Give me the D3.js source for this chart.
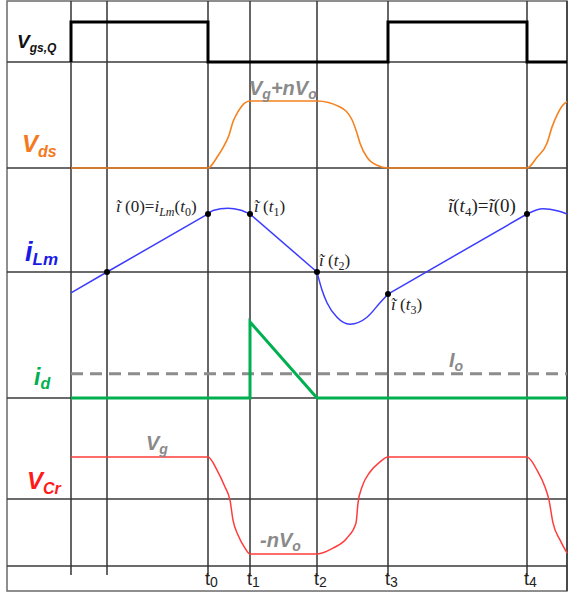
<!DOCTYPE html>
<html>
<head>
<meta charset="utf-8">
<script src="https://cdn.jsdelivr.net/npm/d3@7/dist/d3.min.js"></script>
<style>
  body { margin: 0; background: #fff; }
  svg { display: block; }
</style>
</head>
<body>
<div id="chart"></div>
<script>
// ── Data (time in arbitrary units, levels normalised per trace) ─────────────
const GRID_T = [0, 0.36, 1.37, 1.79, 2.46, 3.17, 4.56, 4.96];

const TICKS = [
    { sub: "0", t: 1.37 },
    { sub: "1", t: 1.79 },
    { sub: "2", t: 2.46 },
    { sub: "3", t: 3.17 },
    { sub: "4", t: 4.56 },
];

// gate signal (0 = low, 1 = high)
const VGS = [[0, 0], [0, 1], [1.37, 1], [1.37, 0], [3.17, 0], [3.17, 1], [4.56, 1], [4.56, 0], [4.96, 0]];

// drain-source voltage (0 = 0, 1 = Vg+nVo)
const VDS = [
    [0, 0], [1.37, 0], [1.46, 0.16], [1.53, 0.33], [1.58, 0.49], [1.62, 0.69], [1.67, 0.84], [1.73, 0.96], [1.79, 1],
    [2.46, 1], [2.69, 0.91], [2.81, 0.72], [2.86, 0.52], [2.89, 0.37], [2.96, 0.16], [3.06, 0.04], [3.17, 0],
    [4.56, 0], [4.66, 0.16], [4.76, 0.37], [4.81, 0.61], [4.86, 0.79], [4.92, 0.94], [4.96, 0.99],
];

// magnetising current, split into its linear and resonant pieces
const ILM = [
    [[0, -0.36], [0.36, 0], [1.37, 1]],
    [[1.37, 1], [1.42, 1.06], [1.57, 1.1], [1.69, 1.07], [1.79, 1]],
    [[1.79, 1], [2.46, 0]],
    [[2.46, 0], [2.51, -0.31], [2.56, -0.53], [2.66, -0.78], [2.79, -0.9], [2.96, -0.78], [3.09, -0.53], [3.17, -0.38]],
    [[3.17, -0.38], [4.56, 1]],
    [[4.56, 1], [4.72, 1.09], [4.87, 1.05], [4.96, 1]],
];
const ILM_DOTS = [[0.36, 0], [1.37, 1], [1.79, 1], [2.46, 0], [3.17, -0.38], [4.56, 1]];

// diode current (1 = peak) and load current level
const ID = [[0, 0], [1.79, 0], [1.79, 1], [2.46, 0], [4.96, 0]];
const IO_LEVEL = 0.32;

// resonant capacitor voltage (1 = Vg, -1 = -nVo)
const VCR = [
    [0, 1], [1.37, 1], [1.46, 0.73], [1.54, 0.38], [1.59, 0.11], [1.62, -0.3], [1.67, -0.61], [1.74, -0.88], [1.79, -1],
    [2.46, -1], [2.62, -0.88], [2.76, -0.67], [2.85, -0.36], [2.87, 0.05], [2.91, 0.38], [2.99, 0.69], [3.09, 0.9], [3.17, 1],
    [4.56, 1], [4.66, 0.73], [4.74, 0.38], [4.78, 0.11], [4.82, -0.36], [4.89, -0.71], [4.96, -0.98],
];

// ── Layout ─────────────────────────────────────────────────────────────────
const W = 571, H = 595;
const frame = { left: 7, top: 1, right: 567, bottom: 591 };
const ROW_LINES = [62, 168, 272, 398, 499, 566];
const GRID_BOTTOM = 575;

const svg = d3.select("#chart").append("svg")
    .attr("width", W).attr("height", H);

// ── Scales ─────────────────────────────────────────────────────────────────
const x = d3.scaleLinear().domain([0, 4.96]).range([71, 567]);
const yVgs = d3.scaleLinear().domain([0, 1]).range([62, 22]);
const yVds = d3.scaleLinear().domain([0, 1]).range([168, 101]);
const yLm = d3.scaleLinear().domain([0, 1]).range([272, 214]);
const yId = d3.scaleLinear().domain([0, 1]).range([398, 322]);
const yCr = d3.scaleLinear().domain([-1, 1]).range([554, 457]);

// ── Grid & frame ───────────────────────────────────────────────────────────
const grid = svg.append("g");
grid.append("rect")
    .attr("x", frame.left).attr("y", frame.top)
    .attr("width", frame.right - frame.left).attr("height", frame.bottom - frame.top)
    .attr("fill", "none").attr("stroke", "#6a6a6a").attr("stroke-width", 1.5);

grid.selectAll(".hline").data(ROW_LINES).join("line")
    .attr("x1", frame.left).attr("x2", frame.right)
    .attr("y1", d => d).attr("y2", d => d)
    .attr("stroke", "#3a3a3a").attr("stroke-width", 1.6);

grid.selectAll(".vline").data(GRID_T).join("line")
    .attr("x1", d => x(d)).attr("x2", d => x(d))
    .attr("y1", frame.top)
    .attr("y2", (d, i) => i === GRID_T.length - 1 ? frame.bottom : GRID_BOTTOM)
    .attr("stroke", "#333").attr("stroke-width", 1.5);

// ── Waveforms ──────────────────────────────────────────────────────────────
const lineOf = (ys, curve) => d3.line().x(d => x(d[0])).y(d => ys(d[1])).curve(curve);

svg.append("path").datum(VGS)
    .attr("d", lineOf(yVgs, d3.curveLinear))
    .attr("fill", "none").attr("stroke", "#000").attr("stroke-width", 3);

svg.append("path").datum(VDS)
    .attr("d", lineOf(yVds, d3.curveMonotoneX))
    .attr("fill", "none").attr("stroke", "#f5821f").attr("stroke-width", 1.6);

svg.append("g").selectAll("path").data(ILM).join("path")
    .attr("d", lineOf(yLm, d3.curveMonotoneX))
    .attr("fill", "none").attr("stroke", "#3c3cff").attr("stroke-width", 1.5);

svg.append("line")
    .attr("x1", x(0)).attr("x2", x(4.96))
    .attr("y1", yId(IO_LEVEL)).attr("y2", yId(IO_LEVEL))
    .attr("stroke", "#8c8c8c").attr("stroke-width", 3)
    .attr("stroke-dasharray", "12,7");

svg.append("path").datum(ID)
    .attr("d", lineOf(yId, d3.curveLinear))
    .attr("fill", "none").attr("stroke", "#00b050").attr("stroke-width", 3)
    .attr("stroke-linejoin", "miter");

svg.append("path").datum(VCR)
    .attr("d", lineOf(yCr, d3.curveMonotoneX))
    .attr("fill", "none").attr("stroke", "#ff3c3c").attr("stroke-width", 1.5);

svg.append("g").selectAll("circle").data(ILM_DOTS).join("circle")
    .attr("cx", d => x(d[0])).attr("cy", d => yLm(d[1]))
    .attr("r", 3).attr("fill", "#000");

// ── Text helper: runs of normal / subscript parts ──────────────────────────
function richText(px, py, parts, o) {
    const t = svg.append("text")
        .attr("x", px).attr("y", py)
        .attr("font-family", o.family)
        .attr("fill", o.fill)
        .attr("font-weight", o.weight || "normal");
    let shift = 0;
    parts.forEach(p => {
        const want = p.sub ? (o.subDy || 4) : 0;
        t.append("tspan")
            .attr("dy", want - shift)
            .attr("font-size", p.sub ? o.subSize : o.size)
            .attr("font-style", p.it ? "italic" : "normal")
            .text(p.t);
        shift = want;
    });
    return t;
}

const SANS = "Liberation Sans, Arial, sans-serif";
const SERIF = "Liberation Serif, Times New Roman, serif";

// row names
richText(17, 48, [{ t: "V", it: 1 }, { t: "gs,Q", it: 1, sub: 1 }],
    { family: SANS, fill: "#111", weight: "bold", size: 19, subSize: 12, subDy: 4 });
richText(22, 152, [{ t: "V", it: 1 }, { t: "ds", it: 1, sub: 1 }],
    { family: SANS, fill: "#f47920", weight: "bold", size: 24, subSize: 16, subDy: 5 });
richText(25, 261, [{ t: "i", it: 1 }, { t: "Lm", it: 1, sub: 1 }],
    { family: SANS, fill: "#1a1ae6", weight: "bold", size: 27, subSize: 17, subDy: 4 });
richText(34, 385, [{ t: "i", it: 1 }, { t: "d", it: 1, sub: 1 }],
    { family: SANS, fill: "#00b050", weight: "bold", size: 23, subSize: 16, subDy: 4 });
richText(27, 489, [{ t: "V", it: 1 }, { t: "Cr", it: 1, sub: 1 }],
    { family: SANS, fill: "#ff1a1a", weight: "bold", size: 24, subSize: 16, subDy: 5 });

// level annotations
const GREY = { family: SANS, fill: "#8a8a8a", weight: "bold", size: 20, subSize: 14, subDy: 4 };
richText(249, 95, [{ t: "V", it: 1 }, { t: "g", it: 1, sub: 1 }, { t: "+nV", it: 1 }, { t: "o", it: 1, sub: 1 }], GREY);
richText(146, 450, [{ t: "V", it: 1 }, { t: "g", it: 1, sub: 1 }], GREY);
richText(260, 547, [{ t: "-nV", it: 1 }, { t: "o", it: 1, sub: 1 }], GREY);
richText(449, 367, [{ t: "I", it: 1 }, { t: "o", it: 1, sub: 1 }], GREY);

// current sample annotations
const SER = { family: SERIF, fill: "#222", size: 17, subSize: 12, subDy: 4 };
const SER_BIG = { family: SERIF, fill: "#222", size: 19, subSize: 13, subDy: 4 };
const iT = [{ t: "\u0129", it: 1 }];
richText(116, 212, [...iT, { t: " (0)=" }, { t: "i", it: 1 }, { t: "Lm", it: 1, sub: 1 }, { t: "(" }, { t: "t", it: 1 }, { t: "0", sub: 1 }, { t: ")" }], SER);
richText(254, 212, [...iT, { t: " (" }, { t: "t", it: 1 }, { t: "1", sub: 1 }, { t: ")" }], SER);
richText(319, 266, [...iT, { t: " (" }, { t: "t", it: 1 }, { t: "2", sub: 1 }, { t: ")" }], SER);
richText(391, 310, [...iT, { t: " (" }, { t: "t", it: 1 }, { t: "3", sub: 1 }, { t: ")" }], SER);
richText(448, 212, [...iT, { t: "(" }, { t: "t", it: 1 }, { t: "4", sub: 1 }, { t: ")=" }, ...iT, { t: "(0)" }], SER_BIG);

// time instants along the bottom
TICKS.forEach(d => {
    richText(x(d.t) - 3, 585, [{ t: "t" }, { t: d.sub, sub: 1 }],
        { family: SANS, fill: "#222", size: 18, subSize: 14, subDy: 2 });
});
</script>
</body>
</html>
